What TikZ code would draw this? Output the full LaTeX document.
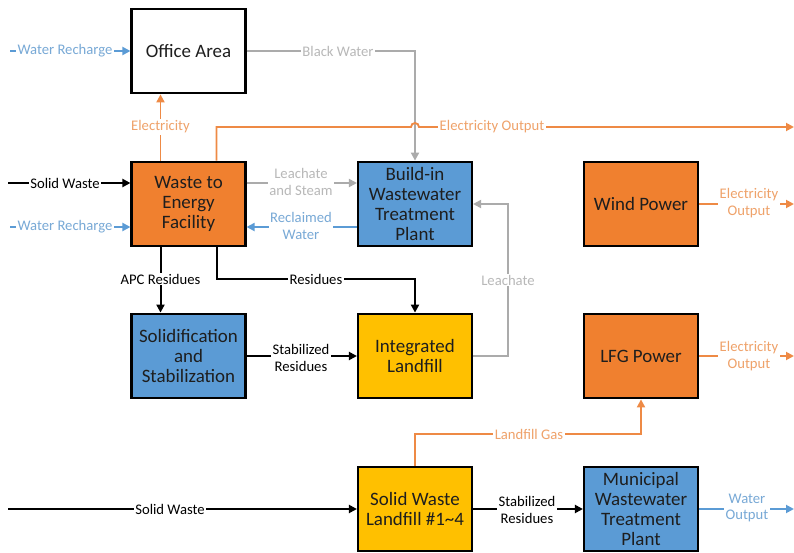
\documentclass[tikz,border=0pt]{standalone}
\usepackage{fontspec}
\setmainfont{Carlito}
\usetikzlibrary{arrows.meta,calc}
\definecolor{boxorange}{HTML}{F0802F}
\definecolor{boxblue}{HTML}{5B9BD5}
\definecolor{boxyellow}{HTML}{FFC000}
\definecolor{lnorange}{HTML}{EE8A45}
\definecolor{txorange}{HTML}{EFA26A}
\definecolor{lngray}{HTML}{ABABAB}
\definecolor{txgray}{HTML}{B8B8B8}
\definecolor{lnblue}{HTML}{5B9BD5}
\definecolor{txblue}{HTML}{78A9D6}
\definecolor{boxtext}{HTML}{1E1E1E}
\tikzset{
  box/.style={draw=black, line width=1.6pt, minimum width=85.5pt, minimum height=63.5pt,
    inner sep=1pt, align=center, text=boxtext, font=\fontsize{14.2}{14.8}\selectfont},
  lbl/.style={fill=white, inner sep=1pt, align=center, font=\fontsize{11}{12.6}\selectfont},
  tip/.style={-{Triangle[length=6pt,width=6pt]}},
  blk/.style={line width=1.5pt, draw=black},
  org/.style={line width=1.4pt, draw=lnorange},
  gry/.style={line width=1.4pt, draw=lngray},
  blu/.style={line width=1.4pt, draw=lnblue},
}
\begin{document}
\begin{tikzpicture}[x=0.75pt,y=-0.75pt]
\useasboundingbox (0,0) rectangle (794,553);
% boxes
\node[box, fill=white] (office) at (188.5,51) {Office Area};
\node[box, fill=boxorange] (wte) at (188.5,204) {Waste to\\Energy\\Facility};
\node[box, fill=boxblue] (bwtp) at (415,204) {Build-in\\Wastewater\\Treatment\\Plant};
\node[box, fill=boxorange] (wind) at (641,204) {Wind Power};
\node[box, fill=boxblue] (solid) at (188.5,356) {Solidification\\and\\Stabilization};
\node[box, fill=boxyellow] (ilf) at (415,356) {Integrated\\Landfill};
\node[box, fill=boxorange] (lfg) at (641,356) {LFG Power};
\node[box, fill=boxyellow] (swl) at (415,509) {Solid Waste\\Landfill \#1\textasciitilde4};
\node[box, fill=boxblue] (mwtp) at (641,509) {Municipal\\Wastewater\\Treatment\\Plant};
% free ends
\coordinate (wr1) at (10,51);
\coordinate (sw1) at (8,183);
\coordinate (wr2) at (10,227);
\coordinate (eoend) at (794,127);
\coordinate (windend) at (794,204);
\coordinate (lfgend) at (794,356);
\coordinate (sw2) at (8,509);
\coordinate (woend) at (794,509);
% connectors
\draw[blu,tip] (wr1) -- (office.west);
\draw[gry,tip] (office.east) -- (415,51) -- (bwtp.north);
\draw[org,tip] ($(wte.north)+(-28,0)$) -- ($(office.south)+(-28,0)$);
\draw[org,tip] ($(wte.north)+(28,0)$) -- (216.5,127) -- (411,127)
   arc[start angle=180,end angle=0,radius=3pt] -- (eoend);
\draw[blk,tip] (sw1) -- ($(wte.west)+(0,-21)$);
\draw[blu,tip] (wr2) -- ($(wte.west)+(0,23)$);
\draw[gry,tip] ($(wte.east)+(0,-21)$) -- ($(bwtp.west)+(0,-21)$);
\draw[blu,tip] ($(bwtp.west)+(0,23)$) -- ($(wte.east)+(0,23)$);
\draw[blk,tip] ($(wte.south)+(-28,0)$) -- ($(solid.north)+(-28,0)$);
\draw[blk,tip] ($(wte.south)+(28,0)$) -- (216.5,279) -- (415,279) -- (ilf.north);
\draw[gry,tip] (ilf.east) -- (508,356) -- (508,204) -- (bwtp.east);
\draw[blk,tip] (solid.east) -- (ilf.west);
\draw[org,tip] (wind.east) -- (windend);
\draw[org,tip] (lfg.east) -- (lfgend);
\draw[blk,tip] (sw2) -- (swl.west);
\draw[org,tip] (swl.north) -- (415,434) -- (641,434) -- (lfg.south);
\draw[blk,tip] (swl.east) -- (mwtp.west);
\draw[blu,tip] (mwtp.east) -- (woend);
% labels
\node[lbl, text=txblue] (l1) at (65,51) {Water Recharge};
\node[lbl, text=txgray] (l2) at (338,51) {Black Water};
\node[lbl, text=txorange] (l3) at (160.5,127) {Electricity};
\node[lbl, text=txorange] (l4) at (492,127) {Electricity Output};
\node[lbl, text=black] (l5) at (65,183) {Solid Waste};
\node[lbl, text=txblue] (l6) at (65,227) {Water Recharge};
\node[lbl, text=txgray] (l7) at (301,182) {Leachate\\and Steam};
\node[lbl, text=txblue] (l8) at (301,226) {Reclaimed\\Water};
\node[lbl, text=black] (l9) at (160.5,279) {APC Residues};
\node[lbl, text=black] (l10) at (316,279) {Residues};
\node[lbl, text=txgray] (l11) at (508,280) {Leachate};
\node[lbl, text=black] (l12) at (301,358) {Stabilized\\Residues};
\node[lbl, text=txorange] (l13) at (749,203) {Electricity\\Output};
\node[lbl, text=txorange] (l14) at (749,356) {Electricity\\Output};
\node[lbl, text=black] (l15) at (170,509) {Solid Waste};
\node[lbl, text=txorange] (l16) at (529,434) {Landfill Gas};
\node[lbl, text=black] (l17) at (527,510) {Stabilized\\Residues};
\node[lbl, text=txblue] (l18) at (747,508) {Water\\Output};
\end{tikzpicture}
\end{document}
